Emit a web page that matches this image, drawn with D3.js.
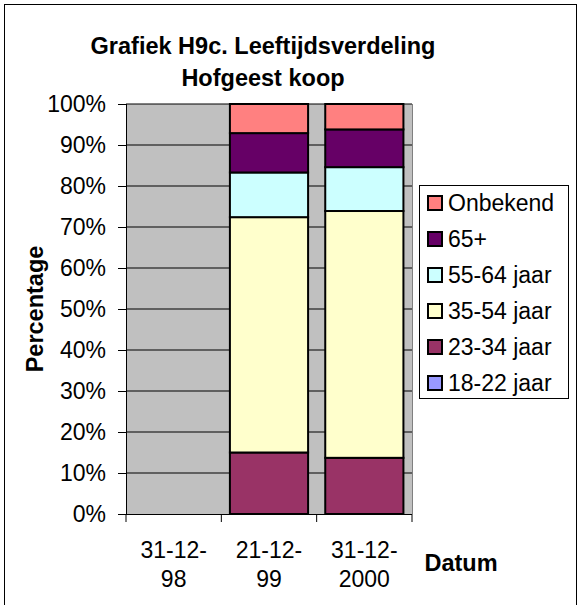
<!DOCTYPE html>
<html><head><meta charset="utf-8">
<script src="https://cdn.jsdelivr.net/npm/d3@7"></script>
<style>body{margin:0;background:#fff}svg{display:block;font-family:"Liberation Sans",Arial,sans-serif}</style>
</head><body><svg id="c" width="579" height="605"></svg>
<script>
const categories = [["31-12-","98"],["21-12-","99"],["31-12-","2000"]];
const seriesNames = ["18-22 jaar","23-34 jaar","35-54 jaar","55-64 jaar","65+","Onbekend"];
const seriesColors = ["#9999FF","#993366","#FFFFCC","#CCFFFF","#660066","#FF8080"];
// values per category (percent), order as seriesNames
const v1998 = [0,0,0,0,0,0];
const v1999 = [0,15.0,57.4,10.9,9.6,7.1];
const v2000 = [0,13.7,60.2,10.7,9.2,6.2];
const yTicks = [0,10,20,30,40,50,60,70,80,90,100];

const values = [v1998, v1999, v2000];
const svg = d3.select("#c");
const FS = 23;
// outer frame
svg.append("rect").attr("x",4.5).attr("y",4.5).attr("width",572).attr("height",610)
  .attr("fill","#fff").attr("stroke","#000").attr("stroke-width",1);

const L=126, R=412, T=104, B=514;
const x = d3.scaleBand().domain(categories.map((c,i)=>i)).range([L,R]).paddingInner(0.18).paddingOuter(0.09);
const xt = d3.scaleLinear().domain([0,3]).range([L,R]);
const y = d3.scaleLinear().domain([0,100]).range([B,T]);

svg.append("rect").attr("x",L).attr("y",T).attr("width",R-L).attr("height",B-T).attr("fill","#C0C0C0");
svg.append("g").selectAll("line").data(yTicks.slice(1)).join("line")
  .attr("x1",L).attr("x2",R).attr("y1",d=>y(d)).attr("y2",d=>y(d)).attr("stroke","#000").attr("stroke-width",1);
svg.append("line").attr("x1",R+0.5).attr("x2",R+0.5).attr("y1",T).attr("y2",B).attr("stroke","#808080");

// bars
values.forEach((vals,ci)=>{
  const st = d3.stack().keys(d3.range(vals.length))([vals.reduce((o,v,i)=>(o[i]=v,o),{})]);
  st.forEach((s,si)=>{
    const d=s[0]; if(d[1]-d[0]<=0) return;
    svg.append("rect").attr("x",x(ci)).attr("width",x.bandwidth())
      .attr("y",y(d[1])).attr("height",y(d[0])-y(d[1]))
      .attr("fill",seriesColors[si]).attr("stroke","#000").attr("stroke-width",2);
  });
});

// y axis
const ya = svg.append("g").attr("transform",`translate(${L},0)`)
  .call(d3.axisLeft(y).tickValues(yTicks).tickFormat(d=>d+"%").tickSize(8).tickPadding(12));
ya.select(".domain").attr("stroke","#000").attr("d",`M0.5,${T}V${B}`);
ya.selectAll("text").attr("font-size",FS).attr("fill","#000").style("font-family","Liberation Sans, Arial, sans-serif");
// x axis
svg.append("line").attr("x1",L).attr("x2",R).attr("y1",B+0.5).attr("y2",B+0.5).attr("stroke","#000");
svg.append("g").selectAll("line").data([0,1,2,3]).join("line")
  .attr("x1",d=>xt(d)).attr("x2",d=>xt(d)).attr("y1",B).attr("y2",B+8).attr("stroke","#000");
const xl = svg.append("g").selectAll("text").data(categories).join("text")
  .attr("x",(d,i)=>x(i)+x.bandwidth()/2).attr("text-anchor","middle").attr("font-size",FS);
xl.append("tspan").attr("x",(d,i)=>xt(i+0.5)).attr("y",558).text(d=>d[0]);
xl.append("tspan").attr("x",(d,i)=>xt(i+0.5)).attr("y",587).text(d=>d[1]);

// titles
svg.append("text").attr("x",263).attr("y",54).attr("text-anchor","middle").attr("font-size",23.5).attr("font-weight","bold").text("Grafiek H9c. Leeftijdsverdeling");
svg.append("text").attr("x",263).attr("y",86).attr("text-anchor","middle").attr("font-size",23.5).attr("font-weight","bold").text("Hofgeest koop");
svg.append("text").attr("transform","translate(43,309) rotate(-90)").attr("text-anchor","middle").attr("font-size",23.5).attr("font-weight","bold").text("Percentage");
svg.append("text").attr("x",461).attr("y",571).attr("text-anchor","middle").attr("font-size",23.5).attr("font-weight","bold").text("Datum");

// legend
const lg = svg.append("g");
lg.append("rect").attr("x",419.5).attr("y",185.5).attr("width",149).attr("height",213).attr("fill","#fff").attr("stroke","#000");
const order = d3.range(seriesNames.length).reverse();
order.forEach((si,k)=>{
  const cy = 203 + k*36;
  lg.append("rect").attr("x",428).attr("y",cy-7).attr("width",14).attr("height",14)
    .attr("fill",seriesColors[si]).attr("stroke","#000").attr("stroke-width",2);
  lg.append("text").attr("x",448).attr("y",cy+8).attr("font-size",FS).text(seriesNames[si]);
});
</script></body></html>
